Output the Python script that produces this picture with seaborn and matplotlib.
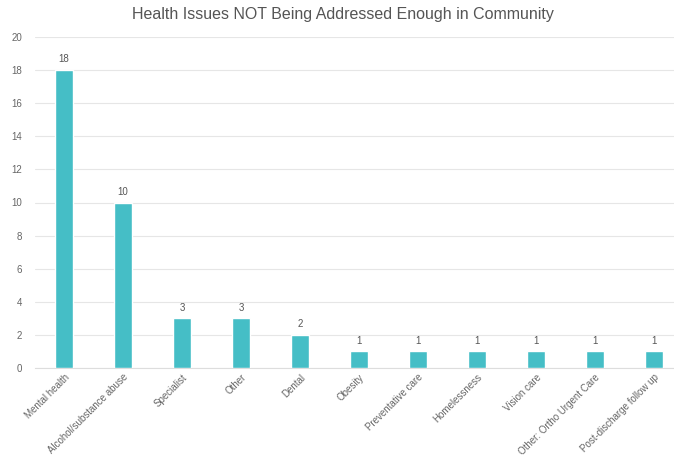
import matplotlib
matplotlib.use("Agg")
import matplotlib.pyplot as plt
import seaborn as sns
import pandas as pd

# health issues named as not addressed enough
issues = ["Mental health", "Alcohol/substance abuse", "Specialist", "Other", "Dental",
          "Obesity", "Preventative care", "Homelessness", "Vision care",
          "Other: Ortho Urgent Care", "Post-discharge follow up"]
counts = [18, 10, 3, 3, 2, 1, 1, 1, 1, 1, 1]
y_ticks = [0, 2, 4, 6, 8, 10, 12, 14, 16, 18, 20]

df = pd.DataFrame({"issue": issues, "count": counts})

sns.set_style("white")
plt.rcParams["font.family"] = ["Liberation Sans", "DejaVu Sans"]

fig = plt.figure(figsize=(6.74, 4.70), dpi=100)
ax = fig.add_axes([34.5 / 674, 1 - 368 / 470, 649 / 674, 331 / 470])

sns.barplot(data=df, x="issue", y="count", color="#45BEC6", width=0.31,
            saturation=1, ax=ax, zorder=3)

for i, v in enumerate(counts):
    ax.text(i, v + 0.35, str(v), ha="center", va="bottom", fontsize=7, color="#555555")

ax.set_ylim(0, 20)
ax.set_xlim(-0.5, len(issues) - 0.5)
ax.set_yticks(y_ticks)
ax.set_yticklabels([str(t) for t in y_ticks], fontsize=7, color="#666666")
ax.grid(axis="y", color="#e6e6e6", linewidth=0.8, zorder=0)
ax.tick_params(axis="both", length=0, pad=9)
ax.tick_params(axis="x", pad=3)
ax.set_xticks(range(len(issues)))
ax.set_xticklabels(issues, rotation=45, ha="right", rotation_mode="anchor",
                   fontsize=7, color="#666666")
ax.set_xlabel("")
ax.set_ylabel("")
for s in ["top", "right", "left"]:
    ax.spines[s].set_visible(False)
ax.spines["bottom"].set_color("#dddddd")

fig.text(343 / 674, 1 - 15 / 470, "Health Issues NOT Being Addressed Enough in Community",
         ha="center", va="center", fontsize=11.5, color="#555555")

fig.savefig("out.png", dpi=100)
